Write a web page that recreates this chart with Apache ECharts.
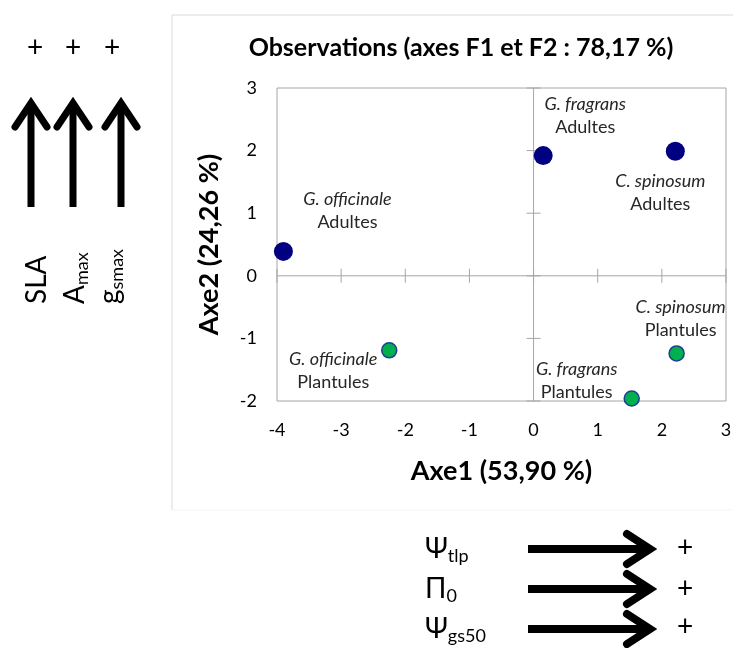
<!DOCTYPE html>
<html>
<head>
<meta charset="utf-8">
<script src="https://cdn.jsdelivr.net/npm/echarts@6/dist/echarts.min.js"></script>
<style>
html,body{margin:0;padding:0;background:#fff;}
#chart{width:733px;height:648px;}
</style>
</head>
<body>
<div id="chart"></div>
<script>
// ---- data ----
const speciesNames = ['G. officinale', 'G. fragrans', 'C. spinosum'];
const adultX = [-3.90, 0.15, 2.21];
const adultY = [0.39, 1.92, 1.99];
const plantX = [-2.25, 1.53, 2.23];
const plantY = [-1.19, -1.96, -1.24];
const stageNames = ['Adultes', 'Plantules'];
const xTicks = [-4, -3, -2, -1, 0, 1, 2, 3];
const yTicks = [-2, -1, 0, 1, 2, 3];
const titleText = 'Observations (axes F1 et F2 : 78,17 %)';
const xName = 'Axe1 (53,90 %)';
const yName = 'Axe2 (24,26 %)';

// ---- style config ----
const FONT = 'Lato, "Noto Sans", sans-serif';
const adultLabelOffsets = [[64, -41], [42, -40], [-15, 41]];
const plantLabelOffsets = [[-56, 20], [-55, -18], [4, -35]];
const GRAY = '#a6a6a6';
const TICK_HALF = 7;

const chart = echarts.init(document.getElementById('chart'), null, {renderer: 'canvas'});

function buildData(xs, ys, offsets, stage) {
  return xs.map((x, i) => ({
    value: [x, ys[i]],
    name: speciesNames[i],
    label: {offset: offsets[i], formatter: '{i|' + speciesNames[i] + '}\n{n|' + stage + '}'}
  }));
}

const labelBase = {
  show: true,
  position: 'inside',
  align: 'center',
  verticalAlign: 'middle',
  lineHeight: 23,
  rich: {
    i: {fontFamily: FONT, fontStyle: 'italic', fontSize: 18, color: '#262626', lineHeight: 23},
    n: {fontFamily: FONT, fontSize: 18, color: '#262626', lineHeight: 23}
  }
};

const xMin = xTicks[0], xMax = xTicks[xTicks.length - 1];
const yMin = yTicks[0], yMax = yTicks[yTicks.length - 1];

// zero cross axes with ticks crossing them, drawn through the cartesian scales
function renderZeroAxes(params, api) {
  const lineStyle = {stroke: GRAY, lineWidth: 1};
  const children = [];
  const xa = api.coord([xMin, 0]), xb = api.coord([xMax, 0]);
  const ya = api.coord([0, yMin]), yb = api.coord([0, yMax]);
  children.push({type: 'line', shape: {x1: xa[0], y1: xa[1], x2: xb[0], y2: xb[1]}, style: lineStyle});
  children.push({type: 'line', shape: {x1: ya[0], y1: ya[1], x2: yb[0], y2: yb[1]}, style: lineStyle});
  xTicks.forEach(v => {
    const p = api.coord([v, 0]);
    children.push({type: 'line', shape: {x1: p[0], y1: p[1] - TICK_HALF, x2: p[0], y2: p[1] + TICK_HALF}, style: lineStyle});
  });
  yTicks.forEach(v => {
    const p = api.coord([0, v]);
    children.push({type: 'line', shape: {x1: p[0] - TICK_HALF, y1: p[1], x2: p[0] + TICK_HALF, y2: p[1]}, style: lineStyle});
  });
  return {type: 'group', children: children};
}

// decorations
function vArrow(x) {
  return [
    {type: 'line', shape: {x1: x, y1: 207, x2: x, y2: 106}, style: {stroke: '#000', lineWidth: 7}},
    {type: 'polyline', shape: {points: [[x - 16, 127], [x, 103], [x + 16, 127]]},
     style: {stroke: '#000', lineWidth: 7, fill: null, lineJoin: 'miter', lineCap: 'round'}}
  ];
}
function hArrow(y) {
  return [
    {type: 'line', shape: {x1: 528, y1: y, x2: 646, y2: y}, style: {stroke: '#000', lineWidth: 8}},
    {type: 'polyline', shape: {points: [[627, y - 15], [650, y], [627, y + 15]]},
     style: {stroke: '#000', lineWidth: 8, fill: null, lineJoin: 'miter', lineCap: 'round'}}
  ];
}
function plus(x, y) {
  return {type: 'text', x: x, y: y, style: {text: '+', font: '28px ' + FONT, fill: '#000', align: 'center', verticalAlign: 'middle'}};
}
const subRich = {
  m: {fontFamily: FONT, fontSize: 28, lineHeight: 32, fill: '#000', color: '#000'},
  s: {fontFamily: FONT, fontSize: 18, lineHeight: 16, verticalAlign: 'bottom', fill: '#000', color: '#000'}
};
function vLabel(x, main, sub) {
  return {type: 'text', x: x, y: 304, rotation: Math.PI / 2,
    style: {text: '{m|' + main + '}' + (sub ? '{s|' + sub + '}' : ''), rich: subRich, align: 'left', verticalAlign: 'middle', fill: '#000'}};
}
function hLabel(y, main, sub) {
  return {type: 'text', x: 425, y: y,
    style: {text: '{m|' + main + '}{s|' + sub + '}', rich: subRich, align: 'left', verticalAlign: 'middle', fill: '#000'}};
}

const graphics = [
  {type: 'polyline', shape: {points: [[172, 510], [172, 15], [740, 15]]}, style: {stroke: '#d9d9d9', lineWidth: 1, fill: null}},
  {type: 'line', shape: {x1: 172, y1: 510, x2: 740, y2: 510}, style: {stroke: '#f4f4f4', lineWidth: 1}},
  ...vArrow(31), ...vArrow(73), ...vArrow(121),
  plus(35, 48), plus(73, 48), plus(112, 48),
  vLabel(37, 'SLA', ''), vLabel(75, 'A', 'max'), vLabel(110, 'g', 'smax'),
  ...hArrow(549), ...hArrow(589), ...hArrow(629),
  plus(685, 548), plus(685, 589), plus(685, 627),
  hLabel(549, 'Ψ', 'tlp'), hLabel(589, 'Π', '0'), hLabel(629, 'Ψ', 'gs50')
];

const option = {
  backgroundColor: '#fff',
  animation: false,
  title: {
    text: titleText,
    left: 461, top: 35, padding: 0, textAlign: 'center',
    textStyle: {fontFamily: FONT, fontWeight: 'bold', fontSize: 25, color: '#000'}
  },
  grid: {left: 277, top: 88, width: 449, height: 313, show: true, borderColor: GRAY, borderWidth: 1, backgroundColor: 'transparent', containLabel: false, outerBoundsMode: 'none'},
  xAxis: {
    type: 'value', min: xMin, max: xMax, interval: 1, position: 'bottom',
    axisLine: {show: false, onZero: false},
    axisTick: {show: false},
    splitLine: {show: false},
    axisLabel: {fontFamily: FONT, fontSize: 18, color: '#000', margin: 20},
    name: xName, nameLocation: 'middle', nameGap: 57,
    nameTextStyle: {fontFamily: FONT, fontWeight: 'bold', fontSize: 27, color: '#000'}
  },
  yAxis: {
    type: 'value', min: yMin, max: yMax, interval: 1, position: 'left',
    axisLine: {show: false, onZero: false},
    axisTick: {show: false},
    splitLine: {show: false},
    axisLabel: {fontFamily: FONT, fontSize: 18, color: '#000', margin: 20},
    name: yName, nameLocation: 'middle', nameGap: 54,
    nameTextStyle: {fontFamily: FONT, fontWeight: 'bold', fontSize: 27, color: '#000'}
  },
  series: [
    {
      name: 'axes', type: 'custom', silent: true, z: 1,
      renderItem: renderZeroAxes,
      data: [[0, 0]],
      tooltip: {show: false}
    },
    {
      name: stageNames[0], type: 'scatter',
      symbol: 'circle', symbolSize: 19,
      itemStyle: {color: '#000080', borderColor: '#000080', borderWidth: 0, opacity: 1},
      label: labelBase,
      data: buildData(adultX, adultY, adultLabelOffsets, stageNames[0]),
      z: 5
    },
    {
      name: stageNames[1], type: 'scatter',
      symbol: 'circle', symbolSize: 15,
      itemStyle: {color: '#00b050', borderColor: '#203e8f', borderWidth: 1.5, opacity: 1},
      label: labelBase,
      data: buildData(plantX, plantY, plantLabelOffsets, stageNames[1]),
      z: 5
    }
  ],
  graphic: {elements: graphics}
};
chart.setOption(option);
</script>
</body>
</html>
